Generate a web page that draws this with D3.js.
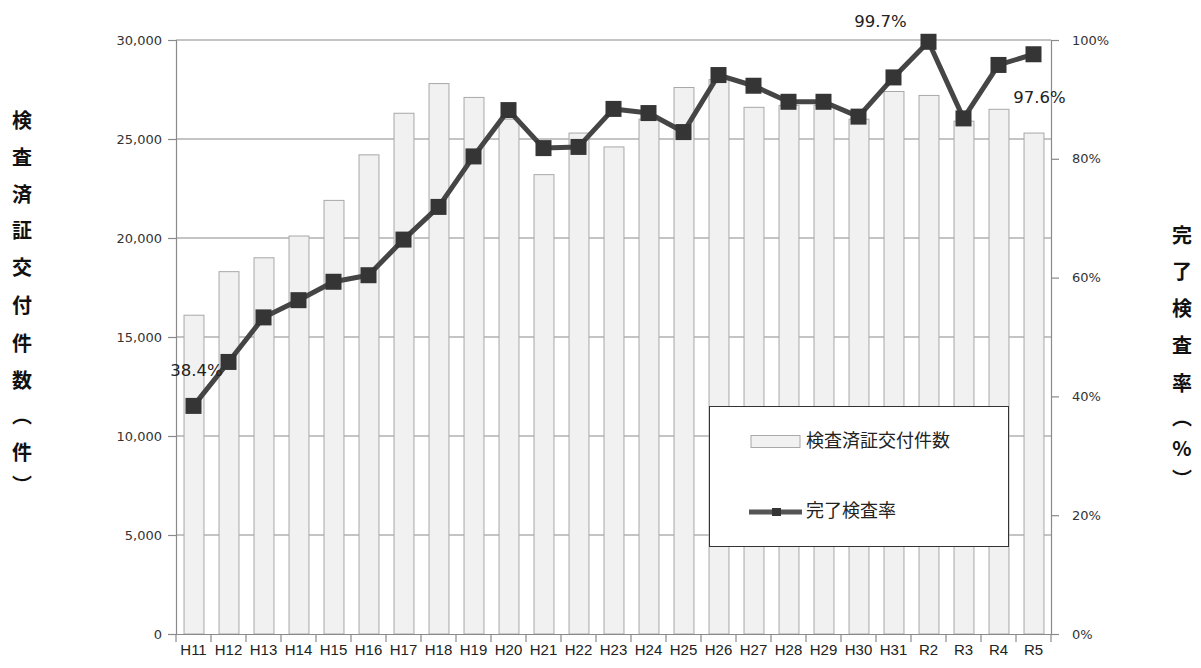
<!DOCTYPE html>
<html>
<head>
<meta charset="utf-8">
<script src="https://cdn.jsdelivr.net/npm/d3@7"></script>
<style>
html,body{margin:0;padding:0;background:#fff;}
svg{display:block;}
</style>
</head>
<body>
<svg id="chart" width="1201" height="668"></svg>
<script>
const years = ["H11","H12","H13","H14","H15","H16","H17","H18","H19","H20","H21","H22","H23","H24","H25","H26","H27","H28","H29","H30","H31","R2","R3","R4","R5"];
const counts = [16100,18300,19000,20100,21900,24200,26300,27800,27100,26000,23200,25300,24600,26000,27600,28000,26600,26700,26700,26000,27400,27200,25900,26500,25300];
const rates = [38.4,45.8,53.3,56.2,59.3,60.4,66.4,71.9,80.4,88.2,81.8,82.0,88.4,87.7,84.5,94.1,92.3,89.6,89.6,87.1,93.7,99.7,86.8,95.8,97.6];
const leftTicks = [0,5000,10000,15000,20000,25000,30000];
const rightTicks = [0,20,40,60,80,100];
const leftTitle = ["検","査","済","証","交","付","件","数","︵","件","︶"];
const rightTitle = ["完","了","検","査","率","︵","%","︶"];
const seriesNames = ["検査済証交付件数","完了検査率"];
const labelled = [{i:0,text:"38.4%"},{i:21,text:"99.7%"},{i:24,text:"97.6%"}];

const svg = d3.select("#chart");
const L = 176, R = 1051, T = 40, B = 634;
const jp = "'Noto Sans CJK JP','Noto Sans',sans-serif";
const num = "'DejaVu Sans',Verdana,sans-serif";

const x = d3.scaleBand().domain(years).range([L,R]).paddingInner(0.43).paddingOuter(0.215);
const yL = d3.scaleLinear().domain([0,30000]).range([B,T]);
const yR = d3.scaleLinear().domain([0,100]).range([B,T]);
const step = x.step();

// gridlines
svg.append("g").selectAll("line").data(leftTicks.filter(d=>d>0)).join("line")
  .attr("x1",L).attr("x2",R).attr("y1",d=>yL(d)).attr("y2",d=>yL(d))
  .attr("stroke","#8a8a8a").attr("stroke-width",1.2);

// bars
svg.append("g").selectAll("rect").data(counts).join("rect")
  .attr("x",(d,i)=>x(years[i])+0.5).attr("width",x.bandwidth())
  .attr("y",d=>yL(d)).attr("height",d=>B-yL(d))
  .attr("fill","#f1f1f1").attr("stroke","#a8a8a8").attr("stroke-width",1);

// left axis
const gL = svg.append("g").attr("transform",`translate(${L},0)`)
  .call(d3.axisLeft(yL).tickValues(leftTicks).tickFormat(d3.format(",")).tickSize(8).tickPadding(6));
gL.selectAll("path,line").attr("stroke","#8a8a8a").attr("stroke-width",1.2);
gL.selectAll("text").attr("font-family",num).attr("font-size",13).attr("fill","#333");

// right axis
const gR = svg.append("g").attr("transform",`translate(${R},0)`)
  .call(d3.axisRight(yR).tickValues(rightTicks).tickFormat(d=>d+"%").tickSize(8).tickPadding(13));
gR.selectAll("path,line").attr("stroke","#8a8a8a").attr("stroke-width",1.2);
gR.selectAll("text").attr("font-family",num).attr("font-size",13).attr("fill","#333");

// bottom axis
const gB = svg.append("g").attr("transform",`translate(0,${B})`)
  .call(d3.axisBottom(x).tickSize(0).tickPadding(10));
gB.select("path").attr("stroke","#8a8a8a").attr("stroke-width",1.2);
gB.selectAll("text").attr("font-family","'Liberation Sans',Arial,sans-serif").attr("font-size",15).attr("fill","#222");
// category boundary ticks
const bounds = years.map(d=>x(d)-(step-x.bandwidth())/2).concat([R]);
svg.append("g").selectAll("line").data(bounds).join("line")
  .attr("x1",d=>d).attr("x2",d=>d)
  .attr("y1",B).attr("y2",B+8).attr("stroke","#8a8a8a").attr("stroke-width",1.2);

// line
const cx = (d,i)=>x(years[i])+x.bandwidth()/2;
svg.append("path").datum(rates)
  .attr("d",d3.line().x(cx).y(d=>yR(d)))
  .attr("fill","none").attr("stroke","#454545").attr("stroke-width",5).attr("stroke-linejoin","round");
svg.append("g").selectAll("rect").data(rates).join("rect")
  .attr("x",(d,i)=>cx(d,i)-8).attr("y",d=>yR(d)-8).attr("width",16).attr("height",16)
  .attr("fill","#353535");

// data labels
const lblOff = {0:[3,-34],21:[-48,-19],24:[6,44]};
svg.append("g").selectAll("text").data(labelled).join("text")
  .attr("x",d=>cx(0,d.i)+lblOff[d.i][0]).attr("y",d=>yR(rates[d.i])+lblOff[d.i][1])
  .attr("text-anchor","middle").attr("dominant-baseline","middle")
  .attr("font-family",num).attr("font-size",16.5).attr("fill","#222")
  .text(d=>d.text);

// legend
const lg = svg.append("g");
lg.append("rect").attr("x",709.5).attr("y",406.5).attr("width",299).attr("height",140)
  .attr("fill","#fff").attr("stroke","#333").attr("stroke-width",1);
lg.append("rect").attr("x",751).attr("y",435.5).attr("width",49).attr("height",12)
  .attr("fill","#f1f1f1").attr("stroke","#a8a8a8");
lg.append("line").attr("x1",749).attr("x2",802).attr("y1",512).attr("y2",512)
  .attr("stroke","#555").attr("stroke-width",5);
lg.append("rect").attr("x",772).attr("y",508).attr("width",9).attr("height",8).attr("fill","#353535");
lg.selectAll("text").data(seriesNames).join("text")
  .attr("x",806).attr("y",(d,i)=>i===0?442:512)
  .attr("dominant-baseline","middle").attr("font-family",jp).attr("font-size",18).attr("fill","#222")
  .text(d=>d);

// axis titles
const leftY = [123,160,197,233,270,308,346,383,418,455,488];
const rightY = [238,274,311,348,386,420,451,482];
svg.append("g").selectAll("text").data(leftTitle).join("text")
  .attr("x",22).attr("y",(d,i)=>leftY[i])
  .attr("text-anchor","middle").attr("dominant-baseline","middle")
  .attr("font-family",jp).attr("font-weight","bold").attr("font-size",20).attr("fill","#111")
  .text(d=>d);
svg.append("g").selectAll("text").data(rightTitle).join("text")
  .attr("x",1182).attr("y",(d,i)=>rightY[i])
  .attr("text-anchor","middle").attr("dominant-baseline","middle")
  .attr("font-family",jp).attr("font-weight","bold").attr("font-size",20).attr("fill","#111")
  .text(d=>d);
</script>
</body>
</html>
